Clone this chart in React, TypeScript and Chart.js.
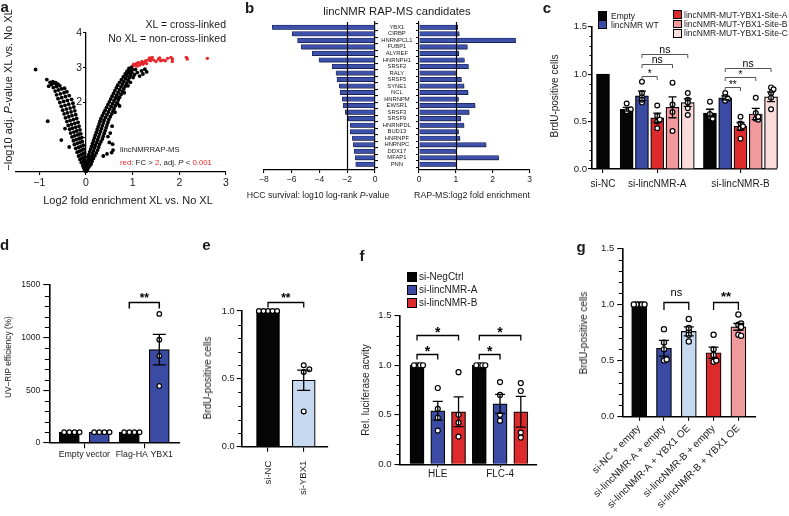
import React, { useEffect, useRef } from "react";
import { Chart, registerables } from "chart.js";

Chart.register(...registerables);

const FONT = "'Liberation Sans', Arial, Helvetica, sans-serif";
Chart.defaults.font.family = FONT;
const W = 789;
const H = 516;

/* ================= DATA ================= */
/* a: volcano (log2 fold enrichment, -log10 adj. P) */
const volcanoBlack: number[][] = [
  [-0.01, 0.02], [-0.03, 0.05], [-0.02, 0.09], [-0.05, 0.12], [-0.01, 0.15],
  [-0.07, 0.18], [-0.04, 0.21], [-0.02, 0.24], [-0.1, 0.27], [-0.06, 0.3], [-0.03, 0.33],
  [-0.13, 0.36], [-0.09, 0.39], [-0.05, 0.41], [-0.02, 0.44], [-0.16, 0.46], [-0.11, 0.49], [-0.07, 0.52], [-0.03, 0.55],
  [-0.19, 0.57], [-0.14, 0.6], [-0.09, 0.63], [-0.05, 0.66], [-0.22, 0.68], [-0.16, 0.71], [-0.11, 0.74], [-0.06, 0.77],
  [-0.25, 0.79], [-0.19, 0.82], [-0.13, 0.85], [-0.08, 0.88], [-0.27, 0.9], [-0.21, 0.93], [-0.15, 0.96], [-0.09, 0.99],
  [-0.3, 1.01], [-0.24, 1.04], [-0.18, 1.07], [-0.11, 1.1], [-0.33, 1.12], [-0.26, 1.15], [-0.2, 1.18], [-0.13, 1.21],
  [-0.35, 1.23], [-0.29, 1.26], [-0.22, 1.29], [-0.15, 1.32], [-0.38, 1.34], [-0.31, 1.37], [-0.24, 1.4], [-0.17, 1.43],
  [-0.41, 1.45], [-0.34, 1.48], [-0.27, 1.51], [-0.2, 1.54], [-0.44, 1.56], [-0.37, 1.59], [-0.3, 1.62], [-0.22, 1.65],
  [-0.47, 1.67], [-0.4, 1.7], [-0.32, 1.73], [-0.24, 1.76], [-0.5, 1.78], [-0.42, 1.81], [-0.34, 1.84], [-0.26, 1.87],
  [-0.53, 1.89], [-0.45, 1.92], [-0.37, 1.95], [-0.28, 1.98], [-0.56, 2.0], [-0.48, 2.03], [-0.4, 2.06], [-0.31, 2.09],
  [-0.6, 2.11], [-0.52, 2.14], [-0.44, 2.17], [-0.36, 2.2], [-0.63, 2.22], [-0.55, 2.25], [-0.47, 2.28], [-0.41, 2.31],
  [-0.66, 2.33], [-0.59, 2.36], [-0.52, 2.39], [-0.46, 2.41], [-0.7, 2.43], [-0.63, 2.46], [-0.56, 2.48], [-0.74, 2.52],
  [-0.67, 2.55], [-0.6, 2.53], [-0.77, 2.58], [-0.71, 2.6], [-0.65, 2.57],
  [-1.08, 2.95], [-0.84, 2.66], [-0.8, 2.47], [-0.82, 1.46], [-0.53, 0.92], [-0.45, 1.25], [-0.36, 0.72],
  [0.01, 0.03], [0.03, 0.06], [0.02, 0.1], [0.05, 0.13], [0.02, 0.16], [0.08, 0.18], [0.04, 0.21], [0.11, 0.23],
  [0.03, 0.26], [0.07, 0.29], [0.13, 0.31], [0.04, 0.34], [0.1, 0.37], [0.16, 0.39], [0.05, 0.42], [0.12, 0.45], [0.19, 0.47],
  [0.06, 0.5], [0.14, 0.53], [0.22, 0.55], [0.08, 0.58], [0.16, 0.61], [0.25, 0.63], [0.1, 0.66], [0.18, 0.69], [0.27, 0.71],
  [0.12, 0.74], [0.2, 0.77], [0.29, 0.79], [0.14, 0.82], [0.23, 0.85], [0.32, 0.87], [0.16, 0.9], [0.25, 0.93], [0.35, 0.95],
  [0.18, 0.98], [0.27, 1.01], [0.37, 1.03], [0.2, 1.06], [0.29, 1.09], [0.39, 1.11], [0.22, 1.14], [0.31, 1.17], [0.41, 1.19],
  [0.24, 1.22], [0.33, 1.25], [0.43, 1.27], [0.26, 1.3], [0.35, 1.33], [0.45, 1.35], [0.28, 1.38], [0.37, 1.41], [0.47, 1.43],
  [0.3, 1.46], [0.39, 1.49], [0.49, 1.51], [0.32, 1.54], [0.42, 1.57], [0.52, 1.59], [0.35, 1.62], [0.45, 1.65], [0.55, 1.67],
  [0.38, 1.7], [0.48, 1.73], [0.58, 1.75], [0.41, 1.78], [0.51, 1.81], [0.6, 1.83], [0.44, 1.86], [0.54, 1.89], [0.63, 1.91],
  [0.47, 1.94], [0.57, 1.97], [0.66, 1.99], [0.5, 2.02], [0.6, 2.05], [0.69, 2.07], [0.53, 2.1], [0.63, 2.13], [0.72, 2.15],
  [0.56, 2.18], [0.66, 2.21], [0.75, 2.23], [0.59, 2.26], [0.69, 2.29], [0.78, 2.31], [0.62, 2.34], [0.72, 2.37], [0.81, 2.39],
  [0.65, 2.42], [0.75, 2.45], [0.84, 2.47], [0.68, 2.5], [0.78, 2.53], [0.87, 2.55], [0.72, 2.58], [0.81, 2.61], [0.9, 2.63],
  [0.76, 2.66], [0.85, 2.69], [0.93, 2.71], [0.8, 2.74], [0.88, 2.77], [0.96, 2.79], [0.84, 2.82], [0.91, 2.85], [0.98, 2.87],
  [0.88, 2.9], [0.94, 2.93], [0.99, 2.95], [0.92, 2.98], [0.97, 3.01],
  [0.37, 0.46], [0.45, 0.52], [0.55, 0.56], [0.58, 0.63], [0.5, 0.85], [0.57, 0.8], [0.47, 1.02], [0.52, 1.12],
  [0.56, 1.32], [0.62, 1.72], [0.68, 1.96], [0.72, 1.9], [0.7, 2.12], [0.82, 2.28], [0.9, 2.48], [0.95, 2.58],
  [1.04, 2.8], [1.1, 2.86], [1.19, 2.91], [1.26, 2.96], [1.3, 2.88], [1.15, 2.76], [1.01, 2.72], [1.06, 2.95], [1.22, 2.82],
];
const volcanoRed: number[][] = [
  [1.0, 3.05], [1.02, 3.1], [1.05, 3.07], [1.08, 3.12], [1.1, 3.05], [1.12, 3.15], [1.15, 3.08], [1.18, 3.13],
  [1.2, 3.18], [1.22, 3.1], [1.25, 3.15], [1.28, 3.2], [1.3, 3.12], [1.33, 3.22], [1.36, 3.28], [1.38, 3.2],
  [1.4, 3.25], [1.42, 3.3], [1.45, 3.22], [1.5, 3.18], [1.55, 3.25], [1.58, 3.28], [1.6, 3.2], [1.65, 3.22],
  [1.7, 3.2], [1.75, 3.27], [1.82, 3.3], [1.85, 3.25], [1.85, 3.18], [2.15, 3.3], [2.17, 3.25], [2.6, 3.27],
];
const volcanoXTicks = [-1, 0, 1, 2, 3];
const volcanoYTicks = [1, 2, 3, 4];

/* b: RAP-MS candidates */
const rapGenes = ["YBX1", "CIRBP", "HNRNPCL1", "FUBP1", "ALYREF", "HNRNPH1", "SRSF2", "RALY", "SRSF5", "SYNE1", "NCL",
  "HNRNPM", "EWSR1", "SRSF3", "SRSF9", "HNRNPDL", "BUD13", "HNRNPF", "HNRNPC", "DDX17", "MFAP1", "PNN"];
const hccLog10P = [-7.4, -5.96, -5.58, -5.31, -4.52, -4.04, -3.08, -2.81, -2.74, -2.57, -2.52,
  -2.36, -2.28, -2.14, -1.92, -1.78, -1.78, -1.63, -1.56, -1.49, -1.42, -1.39];
const rapLog2FE = [1.05, 1.09, 2.62, 1.31, 1.08, 1.23, 1.34, 0.99, 1.15, 1.22, 1.33,
  1.07, 1.52, 1.36, 1.13, 1.22, 1.07, 1.11, 1.82, 0.99, 2.16, 0.99];
const hccTicks = [-8, -6, -4, -2, 0];
const rapTicks = [0, 1, 2, 3];
const hccCutoff = -2;
const rapCutoff = 1;

/* c: BrdU-positive cells, rescue with mutants */
const cGroups = ["si-NC", "si-lincNMR-A", "si-lincNMR-B"];
const cSeries = ["Empty", "lincNMR WT", "lincNMR-MUT-YBX1-Site-A", "lincNMR-MUT-YBX1-Site-B", "lincNMR-MUT-YBX1-Site-C"];
const cBarGroup = [0, 1, 1, 1, 1, 1, 2, 2, 2, 2, 2];
const cBarSeries = [0, 0, 1, 2, 3, 4, 0, 1, 2, 3, 4];
const cMean = [1.0, 0.63, 0.77, 0.54, 0.65, 0.7, 0.59, 0.75, 0.45, 0.58, 0.76];
const cSem = [0, 0.02, 0.05, 0.05, 0.11, 0.04, 0.04, 0.02, 0.04, 0.06, 0.05];
const cPoints = [[], [0.69, 0.61, 0.63], [0.92, 0.76, 0.8, 0.7, 0.73], [0.67, 0.5, 0.56, 0.43, 0.52], [0.91, 0.6, 0.68, 0.4],
  [0.8, 0.64, 0.73, 0.57, 0.7], [0.71, 0.55, 0.58, 0.53], [0.8, 0.72, 0.76, 0.74], [0.55, 0.43, 0.48, 0.32, 0.45],
  [0.75, 0.53, 0.59, 0.52, 0.55], [0.86, 0.75, 0.84, 0.63, 0.8]];
const cBrackets: any[] = [[2, 3, 0.98, "*"], [2, 4, 1.105, "ns"], [2, 5, 1.207, "ns"], [7, 8, 0.86, "**"], [7, 9, 0.965, "*"], [7, 10, 1.06, "ns"]];
const cYTicks = [0, 0.5, 1, 1.5];

/* d: UV-RIP efficiency */
const dGroups = ["Empty vector", "Flag-HA YBX1"];
const dMean = [100, 100, 100, 885];
const dSem = [0, 0, 0, 145];
const dPoints = [[100, 100, 100, 100], [100, 100, 100, 100], [100, 100, 100, 100], [980, 1225, 540, 826]];
const dBrackets: any[] = [[2, 3, 1335, "**"]];
const dYTicks = [0, 500, 1000, 1500];

/* e: BrdU si-YBX1 */
const eLabels = ["si-NC", "si-YBX1"];
const eMean = [1.0, 0.49];
const eSem = [0, 0.075];
const ePoints = [[1, 1, 1, 1, 1], [0.6, 0.57, 0.26, 0.55]];
const eBrackets: any[] = [[0, 1, 1.068, "**"]];
const eYTicks = [0, 0.5, 1];

/* f: luciferase */
const fGroups = ["HLE", "FLC-4"];
const fSeries = ["si-NegCtrl", "si-lincNMR-A", "si-lincNMR-B"];
const fMean = [1.0, 0.54, 0.53, 1.0, 0.61, 0.53];
const fSem = [0, 0.095, 0.15, 0, 0.095, 0.155];
const fPoints = [[1, 1, 1, 1], [0.77, 0.47, 0.56, 0.34], [0.93, 0.42, 0.5, 0.28], [1, 1, 1, 1], [0.83, 0.5, 0.7, 0.44], [0.82, 0.32, 0.74, 0.27]];
const fBrackets: any[] = [[0, 1, 1.11, "*"], [0, 2, 1.31, "*"], [3, 4, 1.11, "*"], [3, 5, 1.31, "*"]];
const fYTicks = [0, 0.5, 1, 1.5];

/* g: BrdU YBX1 OE rescue */
const gLabels = ["si-NC + empty", "si-lincNMR-A + empty", "si-lincNMR-A + YBX1 OE", "si-lincNMR-B + empty", "si-lincNMR-B + YBX1 OE"];
const gMean = [1.0, 0.61, 0.76, 0.57, 0.8];
const gSem = [0, 0.07, 0.04, 0.05, 0.03];
const gPoints = [[1, 1, 1, 1, 1], [0.78, 0.6, 0.66, 0.5, 0.51], [0.87, 0.76, 0.79, 0.67, 0.73], [0.73, 0.55, 0.6, 0.49, 0.5], [0.91, 0.82, 0.73, 0.83, 0.8, 0.72]];
const gBrackets: any[] = [[1, 2, 1.02, "ns"], [3, 4, 1.02, "**"]];
const gYTicks = [0, 0.5, 1, 1.5];

/* ================= STYLE ================= */
const K = "#050505";
const BLUE = "#3b4ba3";
const RED = "#dd2a2c";
const PINK = "#f09a9e";
const LPINK = "#fbdcdc";
const LBLUE = "#c6d9f0";
const BARB = "#3d51ab";
const REDPT = "#e8252a";
const TXT = "#1a1a1a";
const cSeriesColors = [K, BLUE, RED, PINK, LPINK];
const fSeriesColors = [K, BLUE, RED];

/* ================= HELPERS ================= */
function zeroFit(s: any) {
  if (s.isHorizontal()) s.height = 0;
  else s.width = 0;
  s.paddingLeft = 0; s.paddingRight = 0; s.paddingTop = 0; s.paddingBottom = 0;
}
// scales take no layout space; after layout, widen their boxes outward so tick labels are not clipped
const expandBoxes = {
  id: "expandBoxes",
  afterLayout(chart: any) {
    Object.values(chart.scales).forEach((s: any) => {
      const pos = s.options.position;
      if (pos === "bottom") s.bottom = s.top + 150;
      else if (pos === "top") s.top = s.bottom - 150;
      else if (pos === "left") s.left = s.right - 200;
      else if (pos === "right") s.right = s.left + 200;
    });
  },
};
const fixTicks = (vals: number[]) => (s: any) => { s.ticks = vals.map((v) => ({ value: v })); };
const minus = (t: string) => t.replace(/-/g, "\u2212");
const grid = (tl: number) => ({ display: true, drawOnChartArea: false, drawTicks: true, tickLength: tl, tickColor: "#000", tickWidth: 1.1, lineWidth: 1.1, color: "#000" });

function baseOptions(plot: number[]) {
  const [l, t, r, b] = plot;
  return {
    animation: false, responsive: true, maintainAspectRatio: false, events: [],
    layout: { padding: { left: l, top: t, right: W - r, bottom: H - b } },
    plugins: { legend: { display: false }, tooltip: { enabled: false }, title: { display: false } },
  };
}

function swarm(vals: number[], cx: number, pxX: number, pxY: number, r: number, bw: number) {
  const n = vals.length;
  const full = 2 * r + 0.8;
  const step = n > 1 ? Math.min(full, Math.max((bw - 2 * r) / (n - 1), full * 0.45)) : full;
  const placed: number[][] = [];
  return vals.map((v) => {
    const py = v * pxY;
    let dx = 0;
    for (let k = 0; k < 30; k++) {
      const m = k === 0 ? 0 : k % 2 ? (k + 1) / 2 : -k / 2;
      const cand = m * step;
      if (placed.every(([qx, qy]) => Math.hypot(qx - cand, qy - py) >= step - 1e-6)) { dx = cand; break; }
    }
    placed.push([dx, py]);
    return { x: cx + dx / pxX, y: v };
  });
}

function makeBarChart(cv: HTMLCanvasElement, s: any) {
  const [l, t, r, b] = s.plot;
  const pxX = (r - l) / (s.xr[1] - s.xr[0]);
  const pxY = (b - t) / (s.yr[1] - s.yr[0]);
  const pts: any[] = [];
  s.points.forEach((vals: number[], i: number) => pts.push(...swarm(vals, s.barX[i], pxX, pxY, s.r, s.barW)));
  const extras = {
    id: "barExtras",
    afterDatasetsDraw(chart: any) {
      const ctx = chart.ctx; const xs = chart.scales.x; const ys = chart.scales.y; const area = chart.chartArea;
      ctx.save();
      ctx.strokeStyle = "#000"; ctx.lineWidth = 1;
      const n = Math.round((s.yr[1] - s.yr[0]) / s.yMinor);
      for (let k = 0; k <= n; k++) {
        const v = s.yr[0] + k * s.yMinor;
        if (s.yTicks.some((tv: number) => Math.abs(tv - v) < s.yMinor / 10)) continue;
        const py = Math.round(ys.getPixelForValue(v)) + 0.5;
        ctx.beginPath(); ctx.moveTo(area.left - s.yMinorTL, py); ctx.lineTo(area.left, py); ctx.stroke();
      }
      ctx.lineWidth = 1.3;
      chart.getDatasetMeta(0).data.forEach((el: any, i: number) => {
        const e = s.sem[i]; if (!e) return;
        const x = el.x; const y1 = ys.getPixelForValue(s.mean[i] + e); const y2 = ys.getPixelForValue(s.mean[i] - e);
        const h = s.capW / 2;
        ctx.beginPath();
        ctx.moveTo(x, y1); ctx.lineTo(x, y2);
        ctx.moveTo(x - h, y1); ctx.lineTo(x + h, y1);
        ctx.moveTo(x - h, y2); ctx.lineTo(x + h, y2);
        ctx.stroke();
      });
      ctx.strokeStyle = s.brColor; ctx.lineWidth = s.brWidth; ctx.fillStyle = "#000";
      ctx.textAlign = "center"; ctx.textBaseline = "alphabetic";
      s.brackets.forEach(([a, bb, yv, label]: any) => {
        const x1 = xs.getPixelForValue(s.barX[a]); const x2 = xs.getPixelForValue(s.barX[bb]);
        const py = Math.round(ys.getPixelForValue(yv)) + 0.5;
        ctx.beginPath(); ctx.moveTo(x1, py + s.brDrop); ctx.lineTo(x1, py); ctx.lineTo(x2, py); ctx.lineTo(x2, py + s.brDrop); ctx.stroke();
        const star = label.indexOf("*") >= 0;
        const size = star ? s.starFont : s.nsFont;
        const gap = star ? s.brGapStar : s.brGapNs;
        ctx.font = `${star && s.starBold ? "bold " : ""}${size}px ${FONT}`;
        const vc = star ? 0.57 : 0.26;
        ctx.fillText(label, (x1 + x2) / 2, py - gap + vc * size);
      });
      ctx.restore();
    },
  };
  return new Chart(cv, {
    type: "bar",
    data: {
      datasets: [
        { type: "bar", data: s.mean.map((m: number, i: number) => ({ x: s.barX[i], y: m })), backgroundColor: s.colors, borderColor: "#000", borderWidth: 1.2, barThickness: s.barW, order: 2, clip: false },
        { type: "scatter", data: pts, pointRadius: s.r, pointBackgroundColor: "#fff", pointBorderColor: "#000", pointBorderWidth: 1.2, order: 1, clip: false },
      ],
    },
    options: {
      ...baseOptions(s.plot),
      scales: {
        x: {
          type: "linear", position: "bottom", min: s.xr[0], max: s.xr[1], offset: false, afterFit: zeroFit, afterBuildTicks: fixTicks(s.xTicks),
          grid: { ...grid(s.xTL), offset: false }, border: { display: true, color: "#000", width: s.axisW },
          ticks: { autoSkip: false, minRotation: s.xRot, maxRotation: s.xRot, padding: s.xPad, color: TXT, font: { family: FONT, size: s.xFont }, callback: (_v: any, i: number) => s.xLabels[i] },
        },
        y: {
          type: "linear", position: "left", min: s.yr[0], max: s.yr[1], afterFit: zeroFit, afterBuildTicks: fixTicks(s.yTicks),
          grid: grid(s.yTL), border: { display: true, color: "#000", width: s.axisW },
          ticks: { padding: s.yPad, color: TXT, font: { family: FONT, size: s.yFont }, callback: (v: any) => s.yLabel(v) },
        },
      },
    },
    plugins: [expandBoxes, extras],
  } as any);
}

function makeVolcano(cv: HTMLCanvasElement) {
  const plot = [16, 33, 226, 172];
  const shiftY = {
    id: "shiftY",
    afterLayout(chart: any) { const y = chart.scales.y; const px = chart.scales.x.getPixelForValue(0); y.right = px; y.left = px - 200; },
  };
  return new Chart(cv, {
    type: "scatter",
    data: {
      datasets: [
        { data: volcanoBlack.map(([x, y]) => ({ x, y })), pointRadius: 1.9, pointBackgroundColor: "#000", pointBorderWidth: 0, clip: false },
        { data: volcanoRed.map(([x, y]) => ({ x, y })), pointRadius: 1.7, pointBackgroundColor: REDPT, pointBorderWidth: 0, clip: false },
      ],
    },
    options: {
      ...baseOptions(plot),
      scales: {
        x: {
          type: "linear", position: "bottom", min: -1.5, max: 3, afterFit: zeroFit, afterBuildTicks: fixTicks(volcanoXTicks),
          grid: grid(3), border: { display: true, color: "#000", width: 1.3 },
          ticks: { padding: 2, color: TXT, font: { family: FONT, size: 10.5 }, callback: (v: any) => minus(String(v)) },
        },
        y: {
          type: "linear", position: "left", min: 0, max: 4, afterFit: zeroFit, afterBuildTicks: fixTicks(volcanoYTicks),
          grid: grid(3), border: { display: true, color: "#000", width: 1.3 },
          ticks: { padding: 1, color: TXT, font: { family: FONT, size: 10.5 }, callback: (v: any) => String(v) },
        },
      },
    },
    plugins: [expandBoxes, shiftY],
  } as any);
}

function makeRap(cv: HTMLCanvasElement, left: boolean) {
  const plot = left ? [264, 22, 375, 170] : [419, 22, 529.5, 170];
  const vals = left ? hccLog10P : rapLog2FE;
  const cut = left ? hccCutoff : rapCutoff;
  const extras = {
    id: "rapExtras",
    beforeDatasetDraw(chart: any) { const c = chart.ctx; c.save(); c.shadowColor = "rgba(0,0,0,0.35)"; c.shadowOffsetX = 1; c.shadowOffsetY = 1.2; c.shadowBlur = 0.5; },
    afterDatasetDraw(chart: any) { chart.ctx.restore(); },
    afterDatasetsDraw(chart: any) {
      const c = chart.ctx; const px = Math.round(chart.scales.x.getPixelForValue(cut)) + 0.5;
      c.save(); c.strokeStyle = "#000"; c.lineWidth = 1.2; c.beginPath();
      c.moveTo(px, chart.chartArea.top); c.lineTo(px, chart.chartArea.bottom); c.stroke(); c.restore();
    },
  };
  return new Chart(cv, {
    type: "bar",
    data: { datasets: [{ data: vals.map((v, i) => ({ x: v, y: i })), backgroundColor: BARB, borderColor: "#1a2258", borderWidth: 0.7, barThickness: 4.4, clip: false }] },
    options: {
      ...baseOptions(plot),
      indexAxis: "y",
      scales: {
        x: {
          type: "linear", position: "bottom", min: left ? -8 : 0, max: left ? 0 : 3, afterFit: zeroFit, afterBuildTicks: fixTicks(left ? hccTicks : rapTicks),
          grid: grid(3), border: { display: true, color: "#000", width: 1.2 },
          ticks: { padding: 1.6, color: TXT, font: { family: FONT, size: 8.5 }, callback: (v: any) => minus(String(v)) },
        },
        y: {
          type: "linear", position: left ? "right" : "left", reverse: true, min: -0.812, max: 21.874, offset: false,
          afterFit: zeroFit, afterBuildTicks: fixTicks(rapGenes.map((_, i) => i)),
          grid: grid(3), border: { display: true, color: "#000", width: 1.2 },
          ticks: { display: !left, autoSkip: false, crossAlign: "center", padding: 3.5, color: TXT, font: { family: FONT, size: 5.8 }, callback: (_v: any, i: number) => rapGenes[i] },
        },
      },
    },
    plugins: [expandBoxes, extras],
  } as any);
}

/* ================= LAYOUT ================= */
const cStart = [0, 1.55, 7];
const cBarX = cBarGroup.map((g, i) => cStart[g] + cBarGroup.slice(0, i).filter((v) => v === g).length);
const cTickX = cGroups.map((_, g) => { const xs = cBarX.filter((_, i) => cBarGroup[i] === g); return (xs[0] + xs[xs.length - 1]) / 2; });
const fmt1 = (v: number) => v.toFixed(1);

const specC = {
  plot: [592, 26.7, 777, 169], xr: [-0.72, 11.39], yr: [0, 1.5],
  barX: cBarX, mean: cMean, sem: cSem, colors: cBarSeries.map((k) => cSeriesColors[k]), points: cPoints,
  barW: 13, r: 2.4, capW: 8, axisW: 1.6,
  yTicks: cYTicks, yLabel: fmt1, yMinor: 0.1, yFont: 9.6, yTL: 4, yMinorTL: 2.5, yPad: 1,
  xTicks: cTickX, xLabels: cGroups, xFont: 10, xTL: 4, xPad: 5.5, xRot: 0,
  brackets: cBrackets, brColor: "#555", brWidth: 1, brDrop: 3.5, brGapStar: 5, brGapNs: 4.5, starFont: 10, nsFont: 10.5, starBold: false,
};
const specD = {
  plot: [49.3, 285, 180, 442.7], xr: [-0.667, 3.69], yr: [0, 1500],
  barX: [0, 1, 2, 3], mean: dMean, sem: dSem, colors: [K, BLUE, K, BLUE], points: dPoints,
  barW: 20, r: 2.3, capW: 13, axisW: 1.6,
  yTicks: dYTicks, yLabel: (v: number) => String(v), yMinor: 100, yFont: 8.6, yTL: 6, yMinorTL: 4.5, yPad: 3,
  xTicks: [0.5, 2.5], xLabels: dGroups, xFont: 8.8, xTL: 5.5, xPad: 1, xRot: 0,
  brackets: dBrackets, brColor: "#000", brWidth: 1.5, brDrop: 6, brGapStar: 7.7, brGapNs: 7, starFont: 12, nsFont: 11, starBold: true,
};
const specE = {
  plot: [241.7, 311, 328, 446.7], xr: [-0.737, 1.68], yr: [0, 1],
  barX: [0, 1], mean: eMean, sem: eSem, colors: [K, LBLUE], points: ePoints,
  barW: 23, r: 2.4, capW: 13, axisW: 1.6,
  yTicks: eYTicks, yLabel: fmt1, yMinor: 0.1, yFont: 9.3, yTL: 5, yMinorTL: 3.5, yPad: 2,
  xTicks: [0, 1], xLabels: eLabels, xFont: 9.5, xTL: 5, xPad: 9, xRot: 90,
  brackets: eBrackets, brColor: "#000", brWidth: 1.3, brDrop: 5, brGapStar: 7.7, brGapNs: 7, starFont: 12, nsFont: 11, starBold: true,
};
const specF = {
  plot: [400, 315.7, 537, 464.3], xr: [-0.82, 5.78], yr: [0, 1.5],
  barX: [0, 1, 2, 3, 4, 5], mean: fMean, sem: fSem, colors: [K, BLUE, RED, K, BLUE, RED], points: fPoints,
  barW: 14, r: 2.5, capW: 10, axisW: 1.6,
  yTicks: fYTicks, yLabel: fmt1, yMinor: 0.1, yFont: 9.6, yTL: 5.5, yMinorTL: 3.5, yPad: 3,
  xTicks: [1, 4], xLabels: fGroups, xFont: 10, xTL: 3, xPad: 1, xRot: 0,
  brackets: fBrackets, brColor: "#000", brWidth: 1.3, brDrop: 5, brGapStar: 6, brGapNs: 6, starFont: 14, nsFont: 11, starBold: true,
};
const specG = {
  plot: [622.3, 248.3, 756, 416.7], xr: [-0.68, 4.71], yr: [0, 1.5],
  barX: [0, 1, 2, 3, 4], mean: gMean, sem: gSem, colors: [K, BLUE, LBLUE, RED, PINK], points: gPoints,
  barW: 15, r: 2.6, capW: 10, axisW: 1.6,
  yTicks: gYTicks, yLabel: fmt1, yMinor: 0.1, yFont: 9.5, yTL: 5, yMinorTL: 3.5, yPad: 3,
  xTicks: [0, 1, 2, 3, 4], xLabels: gLabels, xFont: 10, xTL: 4, xPad: 2, xRot: 45,
  brackets: gBrackets, brColor: "#000", brWidth: 1.3, brDrop: 7.5, brGapStar: 8.7, brGapNs: 9, starFont: 13, nsFont: 11, starBold: true,
};

function Txt(p: any) {
  const { x, y, size, align = "c", rot = 0, bold = false, color = TXT, children } = p;
  const tx = align === "l" ? "0" : align === "r" ? "-100%" : "-50%";
  return (
    <div style={{ position: "absolute", left: x, top: y, fontSize: size, lineHeight: 1, whiteSpace: "nowrap", fontWeight: bold ? 700 : 400, color,
      transform: `translate(${tx}, -50%)${rot ? ` rotate(${rot}deg)` : ""}` }}>{children}</div>
  );
}
function Swatch(p: any) {
  const { x, y, s, color } = p;
  return <div style={{ position: "absolute", left: x, top: y - s / 2, width: s - 2, height: s - 2, background: color, border: "1px solid #000" }} />;
}
const R = (t: string) => <span style={{ color: REDPT }}>{t}</span>;

export default function App() {
  const refs = useRef<(HTMLCanvasElement | null)[]>([]);
  useEffect(() => {
    const cs = refs.current as HTMLCanvasElement[];
    const charts = [
      makeVolcano(cs[0]), makeRap(cs[1], true), makeRap(cs[2], false),
      makeBarChart(cs[3], specC), makeBarChart(cs[4], specD), makeBarChart(cs[5], specE),
      makeBarChart(cs[6], specF), makeBarChart(cs[7], specG),
    ];
    return () => charts.forEach((c) => c.destroy());
  }, []);
  return (
    <div style={{ position: "fixed", left: 0, top: 0, width: W, height: H, background: "#fff", overflow: "hidden", fontFamily: FONT, color: TXT }}>
      {Array.from({ length: 8 }).map((_, i) => (
        <div key={i} style={{ position: "absolute", left: 0, top: 0, width: W, height: H }}>
          <canvas ref={(el) => { refs.current[i] = el; }} />
        </div>
      ))}
      {/* panel letters */}
      <Txt x={0.5} y={5.7} size={15} align="l" bold>a</Txt>
      <Txt x={249.5} y={6.7} size={15} bold>b</Txt>
      <Txt x={547} y={6.5} size={15} bold>c</Txt>
      <Txt x={0} y={244} size={15} align="l" bold>d</Txt>
      <Txt x={206.5} y={244.2} size={15} bold>e</Txt>
      <Txt x={362} y={254.5} size={15} bold>f</Txt>
      <Txt x={581} y={245.5} size={15} bold>g</Txt>
      {/* a */}
      <Txt x={226} y={24} size={10.5} align="r">XL = cross-linked</Txt>
      <Txt x={226} y={37.5} size={10.5} align="r">No XL = non-cross-linked</Txt>
      <Txt x={120} y={150} size={7.8} align="l">lincNMRRAP-MS</Txt>
      <Txt x={120} y={163.3} size={7.8} align="l">{R("red")}: FC &gt; {R("2")}, adj. <i>P</i> &lt; {R("0.001")}</Txt>
      <Txt x={7.5} y={90} size={11} rot={-90}>{"\u2212"}log10 adj. <i>P</i>-value XL vs. No XL</Txt>
      <Txt x={128} y={200} size={11}>Log2 fold enrichment XL vs. No XL</Txt>
      {/* b */}
      <Txt x={397} y={12} size={11.3}>lincNMR RAP-MS candidates</Txt>
      <Txt x={318} y={195} size={8.7}>HCC survival: log10 log-rank <i>P</i>-value</Txt>
      <Txt x={472} y={195} size={8.8}>RAP-MS:log2 fold enrichment</Txt>
      {/* c */}
      <Txt x={555} y={96} size={10} rot={-90}>BrdU-positive cells</Txt>
      <Swatch x={598} y={15.5} s={8.5} color={cSeriesColors[0]} />
      <Txt x={611} y={15.5} size={8.5} align="l">{cSeries[0]}</Txt>
      <Swatch x={598} y={24.5} s={8.5} color={cSeriesColors[1]} />
      <Txt x={611} y={24.5} size={8.5} align="l">{cSeries[1]}</Txt>
      <Swatch x={673} y={14.5} s={8.5} color={cSeriesColors[2]} />
      <Txt x={684} y={14.5} size={8.5} align="l">{cSeries[2]}</Txt>
      <Swatch x={673} y={24} s={8.5} color={cSeriesColors[3]} />
      <Txt x={684} y={24} size={8.5} align="l">{cSeries[3]}</Txt>
      <Swatch x={673} y={33.3} s={8.5} color={cSeriesColors[4]} />
      <Txt x={684} y={33.3} size={8.5} align="l">{cSeries[4]}</Txt>
      {/* d */}
      <Txt x={7.8} y={357} size={8.3} rot={-90}>UV–RIP efficiency (%)</Txt>
      {/* e */}
      <Txt x={207.5} y={378} size={10} rot={-90}>BrdU-positive cells</Txt>
      {/* f */}
      <Txt x={365.8} y={390} size={10} rot={-90}>Rel. luciferase acvity</Txt>
      {fSeries.map((name, i) => (
        <React.Fragment key={name}>
          <Swatch x={407} y={277 + i * 12.8} s={10} color={fSeriesColors[i]} />
          <Txt x={419} y={277 + i * 12.8} size={10} align="l">{name}</Txt>
        </React.Fragment>
      ))}
      {/* g */}
      <Txt x={583.5} y={333} size={10} rot={-90}>BrdU-positive cells</Txt>
    </div>
  );
}
